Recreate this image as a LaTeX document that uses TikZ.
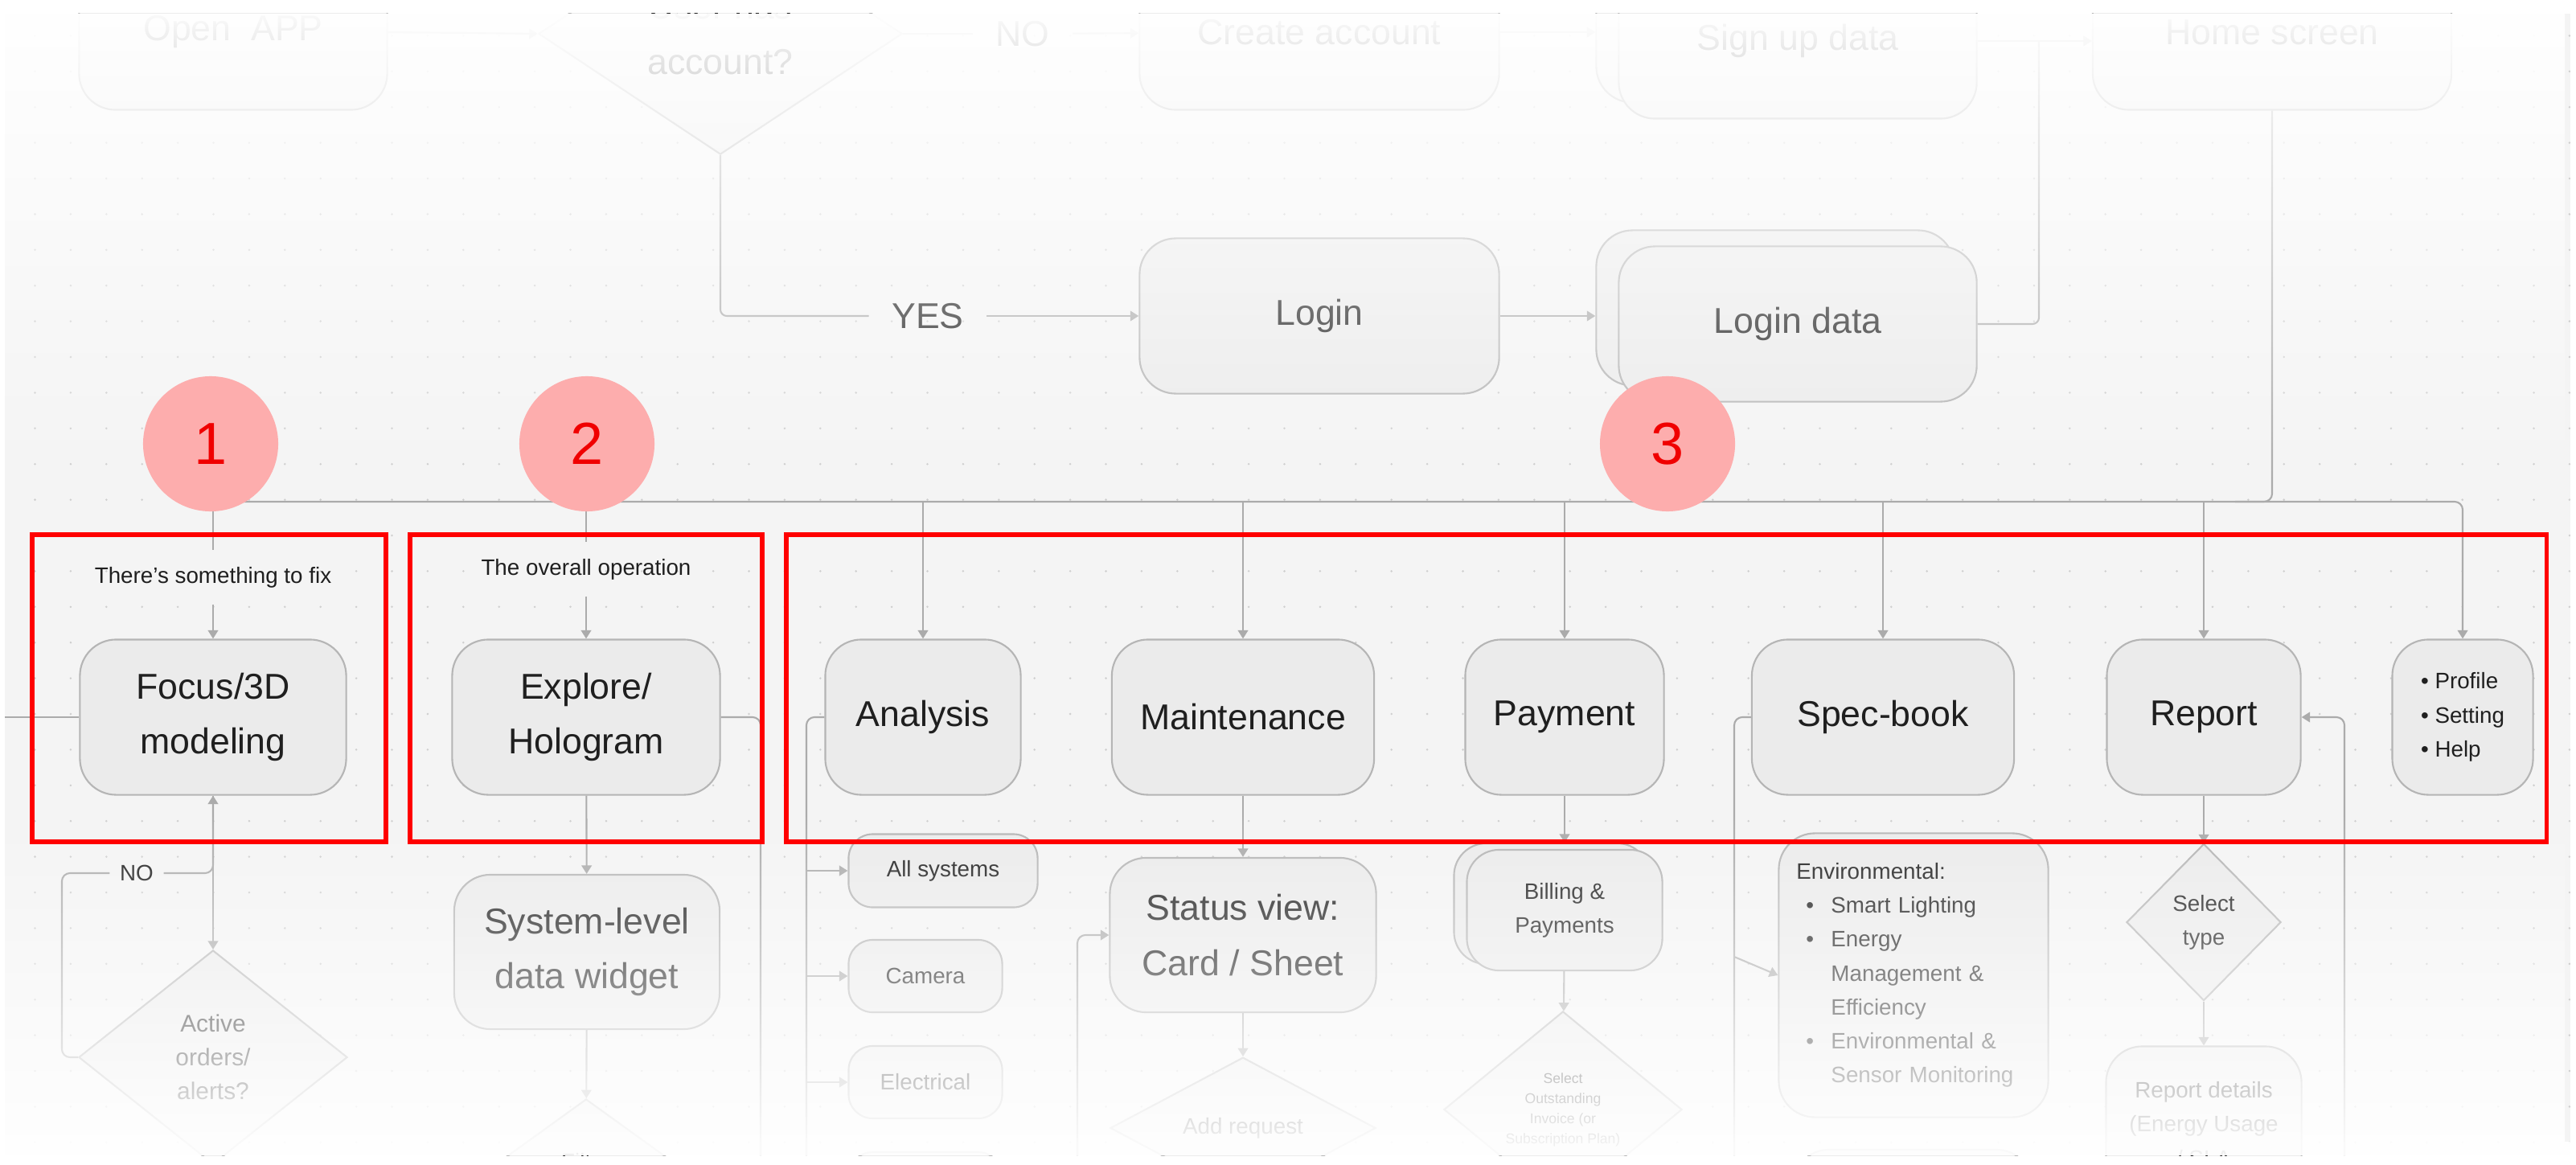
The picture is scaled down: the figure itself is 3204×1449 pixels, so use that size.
\documentclass[tikz,border=0pt]{standalone}
\usepackage{fontspec}
\setmainfont{Liberation Sans}
\usepackage{tikz}
\usetikzlibrary{arrows.meta,positioning,shapes.geometric,fadings}
\definecolor{flbg}{HTML}{F4F4F4}
\definecolor{fldot}{HTML}{CFCFCF}
\definecolor{flfill}{HTML}{EBEBEB}
\definecolor{fledge}{HTML}{B5B5B5}
\definecolor{flline}{HTML}{ABABAB}
\definecolor{flink}{HTML}{1F1F1F}
\definecolor{flred}{HTML}{FF0000}
\definecolor{flpink}{HTML}{FDADAD}
\definecolor{flnum}{HTML}{F00000}
\newcommand{\bigtxt}{\fontsize{12.7}{19.5}\selectfont}
\newcommand{\smtxt}{\fontsize{7.9}{12}\selectfont}
\newcommand{\tinytxt}{\fontsize{5}{7.1}\selectfont}
\newcommand{\bul}{\hspace*{0.12cm}\makebox[0.31cm][l]{\textbullet}}
\newcommand{\ind}{\hspace*{0.43cm}}
\tikzfading[name=fadetop, top color=transparent!2, bottom color=transparent!100]
\tikzfading[name=fadebot, top color=transparent!100, bottom color=transparent!7]

\begin{document}
\begin{tikzpicture}[x=0.01cm,y=-0.01cm,
  box/.style={draw=fledge,fill=flfill,line width=0.6pt,rounded corners=0.45cm,align=center,text=flink,inner sep=0pt,font=\bigtxt},
  smallbox/.style={box,rounded corners=0.3cm,font=\smtxt},
  decide/.style={diamond,draw=fledge,fill=flfill,line width=0.6pt,align=center,text=flink,inner sep=0pt,font=\smtxt},
  link/.style={draw=flline,line width=0.6pt},
  flow/.style={link,-{Triangle[length=3pt,width=3.6pt]}},
  annot/.style={font=\smtxt,text=flink,inner xsep=0.12cm,inner ysep=0.2cm},
  bigword/.style={font=\bigtxt,text=flink,inner sep=0.28cm},
  redframe/.style={draw=flred,line width=1.45pt},
  badge/.style={circle,fill=flpink,minimum size=1.68cm,text=flnum,font=\fontsize{21}{21}\selectfont}]
  \useasboundingbox (0,0) rectangle (3204,1449);
  \fill[white] (0,0) rectangle (3204,1449);
  \begin{scope}
  \clip (6,17) rectangle (3197,1437);
  \fill[flbg] (6,17) rectangle (3197,1437);
  \foreach \i in {0,...,71}
    \foreach \j in {1,...,32}
      \fill[fldot] (43.5+44.4*\i,44.4*\j) circle (0.14mm);

  \node[box,minimum width=3.83cm,minimum height=1.93cm] (openapp) at (290,40) {Open\ \ APP};
  \node[decide,font=\bigtxt,minimum width=4.52cm,minimum height=3cm] (useracc) at (896,42) {User has\\account?};
  \node[bigword] (noA) at (1272,42) {NO};
  \node[box,minimum width=4.47cm,minimum height=1.93cm] (createacc) at (1641,40) {Create account};
  \node[box,minimum width=4.45cm,minimum height=1.93cm] (signupbk) at (2208,31) {};
  \node[box,minimum width=4.45cm,minimum height=1.93cm] (signup) at (2236,51) {Sign up data};
  \node[box,minimum width=4.46cm,minimum height=1.93cm] (homescr) at (2826,40) {Home screen};
  \node[bigword] (yes) at (1154,393) {YES};
  \node[box,minimum width=4.47cm,minimum height=1.93cm] (login) at (1641,393) {Login};
  \node[box,minimum width=4.45cm,minimum height=1.93cm] (logindatabk) at (2208,383) {};
  \node[box,minimum width=4.45cm,minimum height=1.93cm] (logindata) at (2236,403) {Login data};

  \draw[flow] (openapp.east) -- (useracc.west);
  \draw[link] (useracc.east) -- (noA);
  \draw[flow] (noA) -- (createacc);
  \draw[flow] (createacc.east) -- (createacc.east -| signupbk.west);
  \draw[flow] (signup.east) -- (signup.east -| homescr.west);
  \coordinate (dataup) at (2536,51);
  \draw[link,rounded corners=0.08cm] (logindata.east) -| (dataup);
  \draw[link,rounded corners=0.08cm] (useracc.south) |- (yes);
  \draw[flow] (yes) -- (login);
  \draw[flow] (login.east) -- (login.east -| logindatabk.west);

  \node[box,minimum width=3.31cm,minimum height=1.93cm] (focus) at (265,892) {Focus/3D\\modeling};
  \node[box,minimum width=3.33cm,minimum height=1.93cm] (explore) at (729,892) {Explore/\\Hologram};
  \node[box,minimum width=2.43cm,minimum height=1.93cm] (analysis) at (1148,892) {Analysis};
  \node[box,minimum width=3.26cm,minimum height=1.93cm] (maint) at (1546,892) {Maintenance};
  \node[box,minimum width=2.47cm,minimum height=1.93cm] (payment) at (1946,892) {Payment};
  \node[box,minimum width=3.26cm,minimum height=1.93cm] (specbook) at (2342,892) {Spec-book};
  \node[box,minimum width=2.41cm,minimum height=1.93cm] (report) at (2741,892) {Report};
  \node[box,font=\smtxt,align=left,minimum width=1.75cm,minimum height=1.93cm] (profile) at (3063,892) {\textbullet\ Profile\\\textbullet\ Setting\\\textbullet\ Help};
  \node[annot] (fixnote) at (265,718) {There's something to fix};
  \node[annot] (opnote) at (729,708) {The overall operation};

  \coordinate (busL) at (265,624);
  \coordinate (homejoin) at (2780,624);
  \draw[flow,rounded corners=0.1cm] (busL) -| (profile.north);
  \draw[link,rounded corners=0.1cm] (homescr.south) |- (homejoin);
  \draw[link] (busL) -- (fixnote);
  \draw[flow] (fixnote) -- (focus);
  \draw[link] (explore |- busL) -- (opnote);
  \draw[flow] (opnote) -- (explore);
  \foreach \n in {analysis,maint,payment,specbook,report}
    \draw[flow] (\n |- busL) -- (\n);

  \node[decide,font=\fontsize{8.5}{12}\selectfont,minimum width=3.34cm,minimum height=2.66cm] (active) at (265,1315) {Active\\orders/\\alerts?};
  \node[box,minimum width=3.3cm,minimum height=1.92cm] (syslevel) at (730,1184) {System-level\\data widget};
  \node[decide,minimum width=2.16cm,minimum height=1.56cm] (filter) at (729,1445) {Filter};
  \node[smallbox,minimum width=2.35cm,minimum height=0.91cm] (allsys) at (1173,1083) {All systems};
  \node[smallbox,minimum width=1.91cm,minimum height=0.9cm] (camera) at (1151,1214) {Camera};
  \node[smallbox,minimum width=1.91cm,minimum height=0.9cm] (electr) at (1151,1346) {Electrical};
  \node[smallbox,minimum width=1.91cm,minimum height=0.9cm] (sysnext) at (1151,1478) {};
  \node[box,minimum width=3.31cm,minimum height=1.92cm] (status) at (1546,1163) {Status view:\\Card / Sheet};
  \node[decide,minimum width=3.3cm,minimum height=1.36cm] (addreq) at (1546,1403) {Add request};
  \node[smallbox,rounded corners=0.4cm,minimum width=2.43cm,minimum height=1.5cm] (billingbk) at (1930,1124) {};
  \node[smallbox,rounded corners=0.4cm,minimum width=2.43cm,minimum height=1.5cm] (billing) at (1946,1132) {Billing \&\\Payments};
  \node[decide,font=\tinytxt,aspect=1.2,minimum width=2.96cm,minimum height=2.44cm] (selinv) at (1944,1380) {Select\\Outstanding\\Invoice (or\\Subscription Plan)};
  \node[smallbox,rounded corners=0.45cm,align=left,text width=2.91cm,inner xsep=0.22cm,minimum width=3.35cm,minimum height=3.53cm] (environ) at (2380,1213)
    {Environmental:\\\bul Smart Lighting\\\bul Energy\\\ind Management \&\\\ind Efficiency\\\bul Environmental \&\\\ind Sensor Monitoring};
  \node[smallbox,rounded corners=0.45cm,minimum width=2.98cm,minimum height=1.9cm] (envnext) at (2379,1525) {};
  \node[decide,minimum width=1.92cm,minimum height=1.95cm] (seltype) at (2741,1147) {Select\\type};
  \node[smallbox,rounded corners=0.45cm,minimum width=2.43cm,minimum height=1.93cm] (reportdet) at (2741,1398) {Report details\\(Energy Usage\\/ SLA};
  \node[annot,inner sep=0.12cm] (noB) at (170,1086) {NO};

  \coordinate (leftin) at (6,892);
  \draw[link] (leftin) -- (focus);
  \draw[flow] (focus) -- (active);
  \coordinate (noloop) at (77,1086);
  \draw[link,rounded corners=0.1cm] (active.west) -| (noloop) -- (noB);
  \draw[flow,rounded corners=0.1cm] (noB) -| (focus.south);
  \coordinate (exdown) at (946,1437);
  \draw[link,rounded corners=0.1cm] (explore.east) -| (exdown);
  \draw[flow] (explore) -- (syslevel);
  \draw[flow] (syslevel) -- (filter);
  \coordinate (andown) at (1003,1437);
  \draw[link,rounded corners=0.1cm] (analysis.west) -| (andown);
  \foreach \n in {allsys,camera,electr,sysnext}
    \draw[flow] (\n.west -| andown) -- (\n.west);
  \draw[flow] (maint) -- (status);
  \draw[flow] (status) -- (addreq);
  \coordinate (stin) at (1340,1437);
  \draw[flow,rounded corners=0.1cm] (stin) |- (status.west);
  \draw[flow] (payment) -- (billingbk.north -| payment);
  \draw[flow] (billing) -- (selinv);
  \coordinate (spdown) at (2157,1437);
  \coordinate (spbranch) at (2157,1190);
  \draw[link,rounded corners=0.1cm] (specbook.west) -| (spdown);
  \draw[flow] (spbranch) -- (environ.west);
  \draw[flow] (report) -- (seltype);
  \draw[flow] (seltype) -- (reportdet);
  \coordinate (rpin) at (2916,1437);
  \draw[flow,rounded corners=0.1cm] (rpin) |- (report.east);

  \fill[white,path fading=fadetop] (6,17) rectangle (3197,600);
  \fill[white,path fading=fadebot] (6,1010) rectangle (3197,1420);
  \fill[white,opacity=0.93] (6,1420) rectangle (3197,1437);
  \end{scope}

  \draw[redframe] (40,665) rectangle (480,1047);
  \draw[redframe] (510,665) rectangle (948,1047);
  \draw[redframe] (978,665) rectangle (3167,1047);
  \node[badge] (mark1) at (262,552) {1};
  \node[badge] (mark2) at (730,552) {2};
  \node[badge] (mark3) at (2074,552) {3};
\end{tikzpicture}
\end{document}
